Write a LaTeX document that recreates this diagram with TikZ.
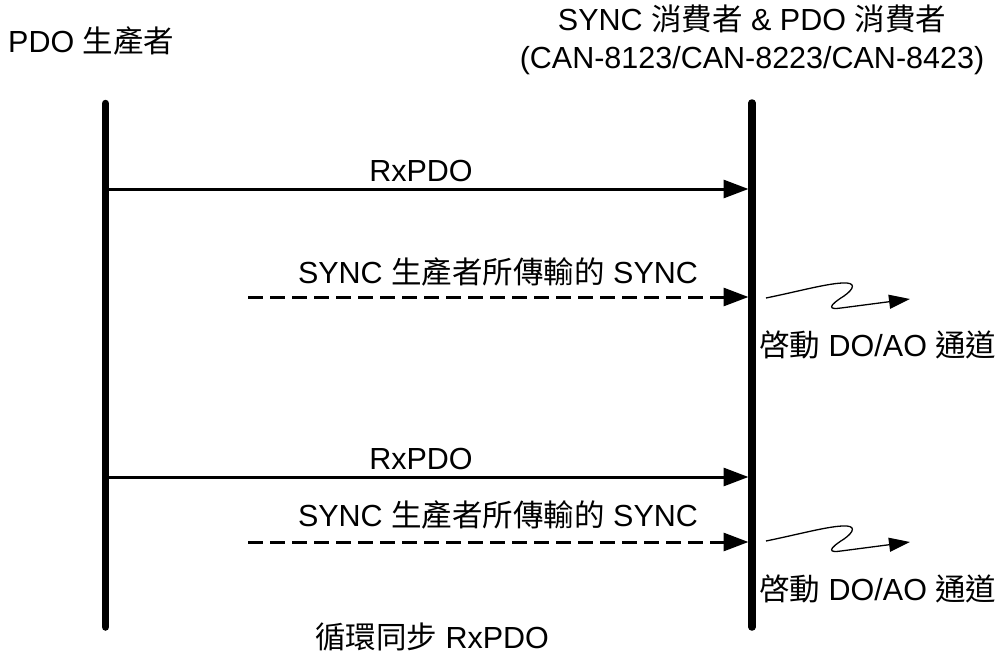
\documentclass[tikz,border=0pt]{standalone}
\usepackage{fontspec}
\setmainfont{Liberation Sans}
\newfontfamily\cjk{Noto Sans CJK TC}
\usetikzlibrary{arrows.meta}
\begin{document}
\begin{tikzpicture}[x=1pt,y=-1pt,
  every node/.style={inner sep=0pt, font=\fontsize{30.5}{36}\selectfont},
  lbl/.style={anchor=base},
  lifeline/.style={line width=7.5pt, line cap=round},
  msg/.style={line width=3pt, -{Triangle[length=25pt,width=18pt]}},
  syncmsg/.style={msg, dash pattern=on 15pt off 7pt},
  action/.style={line width=1.3pt, -{Triangle[length=21pt,width=14pt]}},
  squig/.pic={
    \draw[action] (0,0) .. controls (34,-7) and (59,-14) .. (76,-15)
      .. controls (91,-16) and (88,-9) .. (78,-2)
      .. controls (62,8) and (62,12) .. (75,10) -- (144,1);
  }]
\path[use as bounding box] (0,0) rectangle (1004,661);

% participants
\node[lbl, anchor=base west] (prod) at (8,53) {PDO {\cjk 生產者}};
\node[lbl] (cons1) at (752,31) {SYNC {\cjk 消費者} \& PDO {\cjk 消費者}};
\node[lbl] (cons2) at (752,69) {(CAN-8123/CAN-8223/CAN-8423)};

% lifelines
\coordinate (pTop) at (105.5,103.5);
\coordinate (pBot) at (105.5,627);
\coordinate (cTop) at (752,103);
\coordinate (cBot) at (752,627);
\draw[lifeline] (pTop) -- (pBot);
\draw[lifeline] (cTop) -- (cBot);

% first cycle
\coordinate (p1) at (105.5,189);
\coordinate (c1) at (748.5,189);
\draw[msg] (p1) -- (c1);
\node[lbl] (rx1) at (421,181) {RxPDO};

\coordinate (s1) at (248,297);
\coordinate (c2) at (748.5,297);
\draw[syncmsg] (s1) -- (c2);
\node[lbl] (sync1) at (498,283) {SYNC {\cjk 生產者所傳輸的} SYNC};

\pic at (766,298) {squig};
\node[lbl, anchor=base west] (act1) at (759,356) {{\cjk 啓動} DO/AO {\cjk 通道}};

% second cycle
\coordinate (p3) at (105.5,477);
\coordinate (c3) at (748.5,477);
\draw[msg] (p3) -- (c3);
\node[lbl] (rx2) at (421,469) {RxPDO};

\coordinate (s2) at (248,542);
\coordinate (c4) at (748.5,542);
\draw[syncmsg] (s2) -- (c4);
\node[lbl] (sync2) at (498,526) {SYNC {\cjk 生產者所傳輸的} SYNC};

\pic at (766,541) {squig};
\node[lbl, anchor=base west] (act2) at (759,600) {{\cjk 啓動} DO/AO {\cjk 通道}};

% caption
\node[lbl] (cap) at (432,648) {{\cjk 循環同步} RxPDO};
\end{tikzpicture}
\end{document}
